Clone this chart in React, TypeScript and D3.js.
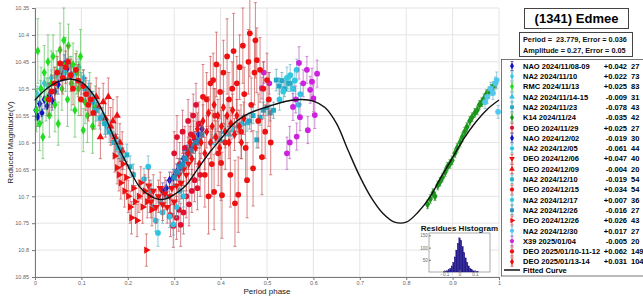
import * as d3 from 'd3';
import { useEffect, useRef } from 'react';

const W = 643;
const H = 299;

// legend rows
const seriesNames = [
  'NAO 2024/11/08-09', 'NA2 2024/11/10', 'RMC 2024/11/13', 'NA2 2024/11/14-15', 'NA2 2024/11/23',
  'K14 2024/11/24', 'DEO 2024/11/29', 'NAO 2024/12/02', 'NA2 2024/12/05', 'DEO 2024/12/06',
  'DEO 2024/12/09', 'NA2 2024/12/10', 'DEO 2024/12/15', 'NA2 2024/12/17', 'NA2 2024/12/26',
  'DEO 2024/12/26', 'NA2 2024/12/30', 'X39 2025/01/04', 'DEO 2025/01/10-11-12', 'DEO 2025/01/13-14',
];
const seriesOffsets = [
  '+0.042', '+0.022', '+0.025', '-0.009', '-0.078', '-0.035', '+0.025', '-0.019', '-0.061', '+0.047',
  '-0.004', '-0.019', '+0.034', '+0.007', '-0.016', '+0.026', '+0.017', '-0.005', '+0.062', '+0.031',
];
const seriesCounts = [27, 73, 83, 31, 43, 42, 27, 30, 44, 40, 20, 54, 54, 36, 27, 43, 27, 20, 149, 104];

// points: [phase, reduced magnitude, error]
const nao1108 = [
  [0.002, 10.54, 0.018], [0.006, 10.552, 0.018], [0.01, 10.528, 0.018], [0.015, 10.545, 0.018],
  [0.02, 10.52, 0.018], [0.026, 10.532, 0.018], [0.031, 10.512, 0.018], [0.037, 10.522, 0.018],
  [0.043, 10.505, 0.018], [0.05, 10.492, 0.018], [0.057, 10.468, 0.018], [0.063, 10.455, 0.018],
  [0.07, 10.462, 0.018], [0.078, 10.475, 0.018],
];
const na21110 = [
  [0.005, 10.51, 0.015], [0.012, 10.5, 0.015], [0.02, 10.49, 0.015], [0.028, 10.495, 0.015],
  [0.035, 10.48, 0.015], [0.045, 10.475, 0.015], [0.055, 10.465, 0.015], [0.065, 10.47, 0.015],
  [0.075, 10.455, 0.015], [0.085, 10.47, 0.015], [0.095, 10.46, 0.015], [0.105, 10.48, 0.015],
  [0.115, 10.5, 0.015], [0.125, 10.52, 0.015], [0.135, 10.53, 0.015], [0.145, 10.55, 0.015],
  [0.155, 10.57, 0.015], [0.165, 10.585, 0.015], [0.175, 10.6, 0.015], [0.185, 10.62, 0.015],
];
const rmc1113 = [
  [0.003, 10.54, 0.04], [0.006, 10.43, 0.06], [0.01, 10.565, 0.05], [0.013, 10.5, 0.04],
  [0.017, 10.59, 0.04], [0.02, 10.47, 0.05], [0.024, 10.52, 0.04], [0.028, 10.45, 0.05],
  [0.031, 10.55, 0.04], [0.035, 10.49, 0.06], [0.039, 10.44, 0.04], [0.043, 10.53, 0.05],
  [0.047, 10.47, 0.04], [0.05, 10.565, 0.04], [0.054, 10.428, 0.05], [0.058, 10.5, 0.04],
  [0.062, 10.41, 0.06], [0.066, 10.455, 0.05], [0.07, 10.52, 0.05], [0.072, 10.42, 0.04],
  [0.078, 10.49, 0.05], [0.082, 10.455, 0.04], [0.086, 10.54, 0.05], [0.09, 10.47, 0.04],
  [0.094, 10.5, 0.05], [0.098, 10.44, 0.05], [0.104, 10.577, 0.04], [0.108, 10.525, 0.04],
  [0.113, 10.55, 0.05], [0.118, 10.51, 0.04], [0.124, 10.57, 0.05], [0.13, 10.535, 0.04],
];
const na21114 = [
  [0.38, 10.6, 0.015], [0.388, 10.59, 0.015], [0.399, 10.595, 0.015], [0.408, 10.58, 0.015],
  [0.418, 10.585, 0.015], [0.427, 10.577, 0.015], [0.436, 10.57, 0.015], [0.446, 10.565, 0.015],
  [0.457, 10.564, 0.015],
];
const na21123 = [
  [0.462, 10.56, 0.015], [0.47, 10.55, 0.015], [0.478, 10.595, 0.015], [0.485, 10.553, 0.015],
  [0.492, 10.54, 0.015], [0.5, 10.535, 0.015], [0.507, 10.545, 0.015], [0.514, 10.54, 0.015],
  [0.52, 10.484, 0.02], [0.526, 10.495, 0.015], [0.532, 10.485, 0.015], [0.538, 10.5, 0.015],
  [0.545, 10.49, 0.015], [0.55, 10.49, 0.015],
];
const k141124 = [
  [0.846, 10.715, 0.008], [0.852, 10.705, 0.008], [0.858, 10.694, 0.008], [0.862, 10.7, 0.008],
  [0.868, 10.68, 0.008], [0.873, 10.673, 0.008], [0.878, 10.665, 0.008], [0.884, 10.655, 0.008],
  [0.889, 10.645, 0.008], [0.894, 10.64, 0.008], [0.899, 10.633, 0.008], [0.905, 10.62, 0.008],
  [0.91, 10.61, 0.008], [0.916, 10.6, 0.008], [0.921, 10.59, 0.008], [0.926, 10.58, 0.008],
  [0.931, 10.571, 0.008], [0.937, 10.56, 0.008], [0.942, 10.553, 0.008], [0.948, 10.545, 0.008],
  [0.953, 10.54, 0.008], [0.958, 10.53, 0.008], [0.963, 10.525, 0.008], [0.968, 10.518, 0.008],
  [0.973, 10.51, 0.008], [0.978, 10.505, 0.008], [0.983, 10.5, 0.008], [0.988, 10.495, 0.008],
  [0.993, 10.49, 0.008],
];
const deo1129 = [
  [0.292, 10.735, 0.04], [0.298, 10.755, 0.04], [0.3, 10.62, 0.04], [0.305, 10.74, 0.04],
  [0.306, 10.59, 0.04], [0.31, 10.725, 0.04], [0.312, 10.64, 0.04], [0.314, 10.753, 0.04],
  [0.318, 10.58, 0.04], [0.32, 10.73, 0.04], [0.323, 10.61, 0.04], [0.326, 10.7, 0.04],
  [0.33, 10.56, 0.04], [0.332, 10.715, 0.04], [0.336, 10.585, 0.04], [0.338, 10.69, 0.04],
  [0.341, 10.55, 0.04], [0.344, 10.67, 0.04], [0.347, 10.53, 0.04], [0.35, 10.685, 0.04],
  [0.353, 10.565, 0.04], [0.356, 10.66, 0.04],
];
const nao1202 = [
  [0.275, 10.69, 0.015], [0.283, 10.685, 0.015], [0.29, 10.67, 0.015], [0.298, 10.665, 0.015],
  [0.305, 10.655, 0.015], [0.313, 10.645, 0.015], [0.32, 10.63, 0.015], [0.328, 10.62, 0.015],
  [0.336, 10.61, 0.015], [0.344, 10.595, 0.015], [0.352, 10.585, 0.015], [0.36, 10.575, 0.015],
];
const na21205 = [
  [0.235, 10.668, 0.02], [0.244, 10.645, 0.02], [0.25, 10.69, 0.02], [0.255, 10.72, 0.02],
  [0.26, 10.745, 0.02], [0.265, 10.768, 0.025], [0.27, 10.71, 0.02], [0.275, 10.73, 0.02],
  [0.282, 10.7, 0.02], [0.29, 10.738, 0.02], [0.298, 10.752, 0.02], [0.305, 10.72, 0.02],
  [0.312, 10.69, 0.02], [0.32, 10.7, 0.02],
];
const deo1206 = [
  [0.245, 10.68, 0.03], [0.25, 10.71, 0.03], [0.255, 10.69, 0.03], [0.261, 10.72, 0.03],
  [0.266, 10.7, 0.03], [0.27, 10.685, 0.03], [0.275, 10.715, 0.03], [0.28, 10.695, 0.03],
  [0.285, 10.72, 0.03], [0.29, 10.7, 0.03], [0.295, 10.685, 0.03], [0.3, 10.71, 0.03],
  [0.305, 10.68, 0.03], [0.31, 10.66, 0.03], [0.315, 10.675, 0.03], [0.32, 10.65, 0.03],
  [0.326, 10.66, 0.03], [0.331, 10.64, 0.03],
];
const deo1209 = [
  [0.132, 10.515, 0.035], [0.138, 10.534, 0.035], [0.141, 10.59, 0.04], [0.147, 10.525, 0.035],
  [0.152, 10.555, 0.035], [0.158, 10.515, 0.035], [0.163, 10.57, 0.035], [0.168, 10.56, 0.04],
  [0.173, 10.59, 0.035], [0.177, 10.55, 0.035], [0.183, 10.6, 0.035], [0.188, 10.615, 0.035],
];
const na21210 = [
  [0.1, 10.49, 0.02], [0.108, 10.5, 0.02], [0.116, 10.51, 0.02], [0.124, 10.525, 0.02],
  [0.132, 10.54, 0.02], [0.14, 10.555, 0.02], [0.15, 10.565, 0.02], [0.16, 10.58, 0.02],
  [0.17, 10.6, 0.02], [0.18, 10.61, 0.02], [0.19, 10.63, 0.02], [0.198, 10.623, 0.02],
  [0.205, 10.645, 0.02], [0.212, 10.66, 0.02],
];
const deo1215 = [
  [0.03, 10.52, 0.03], [0.036, 10.505, 0.03], [0.042, 10.49, 0.03], [0.048, 10.47, 0.03],
  [0.054, 10.453, 0.03], [0.06, 10.48, 0.03], [0.066, 10.46, 0.03], [0.071, 10.45, 0.03],
  [0.077, 10.475, 0.03], [0.082, 10.5, 0.03], [0.088, 10.465, 0.03], [0.093, 10.485, 0.03],
  [0.099, 10.52, 0.03], [0.104, 10.495, 0.03], [0.11, 10.51, 0.03], [0.115, 10.53, 0.03],
  [0.12, 10.52, 0.03], [0.126, 10.545, 0.03],
];
const na21217 = [
  [0.527, 10.52, 0.02], [0.535, 10.505, 0.02], [0.543, 10.48, 0.02], [0.55, 10.475, 0.02],
  [0.556, 10.5, 0.02], [0.56, 10.485, 0.02], [0.564, 10.465, 0.02], [0.568, 10.53, 0.02],
  [0.572, 10.51, 0.02],
];
const na21226 = [
  [0.3, 10.665, 0.015], [0.306, 10.655, 0.015], [0.312, 10.645, 0.015], [0.318, 10.64, 0.015],
  [0.324, 10.63, 0.015], [0.33, 10.62, 0.015], [0.336, 10.615, 0.015], [0.342, 10.605, 0.015],
  [0.348, 10.6, 0.015], [0.354, 10.595, 0.015], [0.36, 10.585, 0.015],
];
const deo1226 = [
  [0.172, 10.625, 0.03], [0.177, 10.647, 0.03], [0.181, 10.66, 0.03], [0.185, 10.675, 0.03],
  [0.189, 10.64, 0.03], [0.193, 10.69, 0.03], [0.197, 10.665, 0.03], [0.201, 10.7, 0.03],
  [0.205, 10.72, 0.03], [0.208, 10.74, 0.03], [0.212, 10.685, 0.03], [0.216, 10.71, 0.03],
  [0.22, 10.745, 0.03], [0.224, 10.7, 0.03], [0.228, 10.675, 0.03], [0.232, 10.72, 0.03],
  [0.237, 10.69, 0.03], [0.24, 10.8, 0.03], [0.242, 10.71, 0.03], [0.247, 10.7, 0.03],
  [0.252, 10.725, 0.03],
];
const na21230 = [
  [0.97, 10.525, 0.012], [0.975, 10.515, 0.012], [0.982, 10.5, 0.012], [0.987, 10.508, 0.012],
  [0.992, 10.49, 0.012], [0.995, 10.484, 0.015], [0.998, 10.543, 0.012],
];
const x390104 = [
  [0.489, 10.499, 0.02], [0.493, 10.47, 0.02], [0.505, 10.49, 0.02], [0.543, 10.62, 0.03],
  [0.549, 10.6, 0.03], [0.556, 10.534, 0.025], [0.562, 10.52, 0.025], [0.564, 10.589, 0.025],
  [0.569, 10.452, 0.03], [0.571, 10.553, 0.025], [0.578, 10.49, 0.025], [0.586, 10.465, 0.025],
  [0.588, 10.577, 0.025], [0.593, 10.502, 0.025], [0.597, 10.487, 0.025], [0.6, 10.518, 0.025],
  [0.603, 10.549, 0.025], [0.608, 10.472, 0.025],
];
const deo0110 = [
  [0.362, 10.515, 0.06], [0.366, 10.66, 0.06], [0.37, 10.52, 0.05], [0.374, 10.7, 0.07],
  [0.378, 10.49, 0.05], [0.381, 10.64, 0.06], [0.384, 10.484, 0.05], [0.386, 10.692, 0.07],
  [0.388, 10.55, 0.05], [0.391, 10.455, 0.06], [0.395, 10.62, 0.06], [0.399, 10.506, 0.05],
  [0.401, 10.638, 0.07], [0.403, 10.698, 0.08], [0.406, 10.47, 0.06], [0.41, 10.6, 0.05],
  [0.414, 10.44, 0.07], [0.418, 10.52, 0.05], [0.421, 10.66, 0.06], [0.425, 10.5, 0.05],
  [0.428, 10.43, 0.07], [0.431, 10.713, 0.08], [0.435, 10.49, 0.05], [0.438, 10.697, 0.07],
  [0.441, 10.46, 0.06], [0.444, 10.58, 0.05], [0.448, 10.42, 0.07], [0.451, 10.51, 0.05],
  [0.454, 10.61, 0.06], [0.457, 10.67, 0.07], [0.46, 10.45, 0.06], [0.463, 10.397, 0.08],
  [0.466, 10.53, 0.05], [0.47, 10.648, 0.07], [0.473, 10.47, 0.06], [0.475, 10.41, 0.07],
  [0.478, 10.447, 0.06], [0.481, 10.56, 0.05], [0.485, 10.465, 0.06], [0.489, 10.627, 0.07],
  [0.492, 10.5, 0.05], [0.496, 10.58, 0.05], [0.5, 10.484, 0.05], [0.504, 10.52, 0.05],
  [0.508, 10.6, 0.06],
];
const deo0113 = [
  [0.33, 10.62, 0.03], [0.334, 10.6, 0.03], [0.338, 10.63, 0.03], [0.342, 10.59, 0.03],
  [0.346, 10.61, 0.03], [0.35, 10.575, 0.03], [0.354, 10.64, 0.03], [0.358, 10.6, 0.03],
  [0.362, 10.56, 0.03], [0.366, 10.62, 0.03], [0.37, 10.58, 0.03], [0.374, 10.545, 0.03],
  [0.378, 10.6, 0.03], [0.382, 10.57, 0.03], [0.386, 10.53, 0.03], [0.39, 10.59, 0.03],
  [0.394, 10.55, 0.03], [0.398, 10.61, 0.03], [0.402, 10.57, 0.03], [0.406, 10.535, 0.03],
  [0.41, 10.58, 0.03], [0.414, 10.55, 0.03], [0.418, 10.6, 0.03], [0.422, 10.565, 0.03],
  [0.426, 10.54, 0.03], [0.43, 10.585, 0.03], [0.435, 10.55, 0.03], [0.44, 10.57, 0.03],
  [0.445, 10.6, 0.03], [0.45, 10.555, 0.03],
];

const seriesData = [
  nao1108, na21110, rmc1113, na21114, na21123, k141124, deo1129, nao1202, na21205, deo1206,
  deo1209, na21210, deo1215, na21217, na21226, deo1226, na21230, x390104, deo0110, deo0113,
];

const seriesColors = [
  '#1010c8', '#3cc8f0', '#22dd22', '#30c0e0', '#20a8c8', '#1c961c', '#e01030', '#1010c8', '#30c4e4', '#ee1010',
  '#ee1010', '#20b0c8', '#ee1010', '#30c8e0', '#2090c0', '#ee1010', '#50c8f0', '#cc22dd', '#ee1010', '#ee1010',
];
const seriesShapes = [
  'diamond', 'diamond', 'diamond', 'triUp', 'square', 'diamond', 'circle', 'diamond', 'circle', 'triDown',
  'triUp', 'square', 'circle', 'circle', 'square', 'triRight', 'circle', 'circle', 'circle', 'diamond',
];

// fitted curve
const curvePhase = [
  0, 0.025, 0.05, 0.075, 0.1, 0.125, 0.15, 0.175, 0.2, 0.225, 0.25, 0.275, 0.3, 0.325, 0.35, 0.375, 0.4,
  0.425, 0.45, 0.475, 0.5, 0.525, 0.55, 0.575, 0.6, 0.625, 0.65, 0.675, 0.7, 0.725, 0.75, 0.775, 0.8,
  0.825, 0.85, 0.875, 0.9, 0.925, 0.95, 0.975, 1,
];
const curveMag = [
  10.521, 10.5, 10.487, 10.482, 10.488, 10.51, 10.55, 10.6, 10.643, 10.682, 10.7, 10.706, 10.697, 10.68,
  10.65, 10.62, 10.594, 10.568, 10.551, 10.541, 10.534, 10.527, 10.522, 10.52, 10.523, 10.535, 10.565,
  10.615, 10.663, 10.703, 10.732, 10.748, 10.748, 10.73, 10.703, 10.665, 10.628, 10.592, 10.562, 10.538,
  10.521,
];

// residues histogram
const histCenters = [
  -0.1, -0.09, -0.08, -0.07, -0.06, -0.05, -0.04, -0.03, -0.02, -0.01, 0, 0.01, 0.02, 0.03, 0.04, 0.05,
  0.06, 0.07, 0.08, 0.09, 0.1, 0.11, 0.12,
];
const histCounts = [2, 3, 5, 9, 15, 25, 40, 62, 90, 118, 140, 130, 105, 80, 58, 40, 25, 15, 9, 5, 3, 2, 1];

const xTicks = [0, 0.1, 0.2, 0.3, 0.4, 0.5, 0.6, 0.7, 0.8, 0.9, 1];
const yTicks = [10.35, 10.4, 10.45, 10.5, 10.55, 10.6, 10.65, 10.7, 10.75, 10.8, 10.85];
const histXTicks = [-0.1, 0, 0.1];
const histYTicks = [50, 100, 150];

const FONT = '"Liberation Sans", Arial, sans-serif';

const symbolTypes = {
  circle: d3.symbolCircle,
  diamond: d3.symbolDiamond,
  square: d3.symbolSquare,
  triUp: d3.symbolTriangle,
  triDown: d3.symbolTriangle,
  triRight: d3.symbolTriangle,
};
const symbolRotate = { triDown: 180, triRight: 90 };

const App = () => {
  const ref = useRef(null);

  useEffect(() => {
    const svg = d3.select(ref.current);
    svg.selectAll('*').remove();

    const margin = { top: 8, left: 35, right: 144, bottom: 22 };
    const x = d3.scaleLinear().domain([0, 1]).range([margin.left, W - margin.right]);
    const y = d3.scaleLinear().domain([10.35, 10.85]).range([margin.top, H - margin.bottom]);

    svg.append('rect').attr('width', W).attr('height', H).attr('fill', '#fff');

    // grid
    const grid = svg.append('g').attr('stroke', '#e4e4e4').attr('stroke-width', 1);
    xTicks.forEach((t) => {
      grid.append('line').attr('x1', x(t)).attr('x2', x(t)).attr('y1', y(10.35)).attr('y2', y(10.85));
    });
    yTicks.forEach((t) => {
      grid.append('line').attr('x1', x(0)).attr('x2', x(1)).attr('y1', y(t)).attr('y2', y(t));
    });

    // axes
    const xAxis = svg
      .append('g')
      .attr('transform', `translate(0, ${y(10.85)})`)
      .call(d3.axisBottom(x).tickValues(xTicks).tickSize(3).tickPadding(1).tickFormat(d3.format('')));
    const yAxis = svg
      .append('g')
      .attr('transform', `translate(${x(0)}, 0)`)
      .call(
        d3.axisLeft(y).tickValues(yTicks).tickSize(3).tickFormat((d) => String(+d.toFixed(2)))
      );
    [xAxis, yAxis].forEach((g) => {
      g.select('.domain').attr('stroke', '#777');
      g.selectAll('.tick line').attr('stroke', '#777');
      g.selectAll('text').attr('fill', '#666').style('font', `5.5px ${FONT}`);
    });

    svg
      .append('text')
      .attr('x', x(0.5))
      .attr('y', 294)
      .attr('text-anchor', 'middle')
      .attr('fill', '#222')
      .style('font', `8px ${FONT}`)
      .text('Period phase');
    svg
      .append('text')
      .attr('transform', `translate(13, ${y(10.6)}) rotate(-90)`)
      .attr('text-anchor', 'middle')
      .attr('fill', '#222')
      .style('font', `8px ${FONT}`)
      .text('Reduced Magnitude(V)');

    const symbolPath = (shape, size) => d3.symbol().type(symbolTypes[shape]).size(size)();
    const barColor = (c) => d3.interpolateRgb(c, '#8a8a8a')(0.4);

    // points with error bars
    const plot = svg.append('g');
    seriesData.forEach((pts, i) => {
      const c = seriesColors[i];
      const shape = seriesShapes[i];
      const g = plot.append('g');
      const bars = g
        .append('g')
        .attr('stroke', barColor(c))
        .attr('stroke-width', 0.8)
        .attr('opacity', 0.8);
      pts.forEach(([p, m, e]) => {
        const cx = x(p);
        bars.append('line').attr('x1', cx).attr('x2', cx).attr('y1', y(m - e)).attr('y2', y(m + e));
        bars.append('line').attr('x1', cx - 1.5).attr('x2', cx + 1.5).attr('y1', y(m - e)).attr('y2', y(m - e));
        bars.append('line').attr('x1', cx - 1.5).attr('x2', cx + 1.5).attr('y1', y(m + e)).attr('y2', y(m + e));
      });
      g.selectAll('path')
        .data(pts)
        .enter()
        .append('path')
        .attr('d', symbolPath(shape, shape === 'circle' ? 26 : 24))
        .attr(
          'transform',
          (d) => `translate(${x(d[0])}, ${y(d[1])}) rotate(${symbolRotate[shape] || 0})`
        )
        .attr('fill', c);
    });

    // fitted curve
    const line = d3
      .line()
      .x((d) => x(d[0]))
      .y((d) => y(d[1]))
      .curve(d3.curveCatmullRom);
    svg
      .append('path')
      .datum(curvePhase.map((p, i) => [p, curveMag[i]]))
      .attr('d', line)
      .attr('fill', 'none')
      .attr('stroke', '#111')
      .attr('stroke-width', 1.4);

    // residues histogram inset
    const hx = d3.scaleLinear().domain([-0.2, 0.2]).range([429, 490]);
    const hy = d3.scaleLinear().domain([0, 160]).range([272, 233]);
    svg
      .append('rect')
      .attr('x', hx(-0.2))
      .attr('y', hy(160))
      .attr('width', hx(0.2) - hx(-0.2))
      .attr('height', hy(0) - hy(160))
      .attr('fill', '#fff')
      .attr('stroke', '#888')
      .attr('stroke-width', 0.7);
    svg
      .append('g')
      .selectAll('rect')
      .data(histCenters)
      .enter()
      .append('rect')
      .attr('x', (d) => hx(d - 0.005))
      .attr('width', hx(0.01) - hx(0))
      .attr('y', (d, i) => hy(histCounts[i]))
      .attr('height', (d, i) => hy(0) - hy(histCounts[i]))
      .attr('fill', '#231a8c')
      .attr('stroke', '#231a8c')
      .attr('stroke-width', 0.3);
    const hxa = svg
      .append('g')
      .attr('transform', `translate(0, ${hy(0)})`)
      .call(d3.axisBottom(hx).tickValues(histXTicks).tickSize(-2).tickFormat(d3.format('')));
    const hya = svg
      .append('g')
      .attr('transform', `translate(${hx(-0.2)}, 0)`)
      .call(d3.axisLeft(hy).tickValues(histYTicks).tickSize(-2));
    [hxa, hya].forEach((g) => {
      g.select('.domain').remove();
      g.selectAll('.tick line').attr('stroke', '#777');
      g.selectAll('text').attr('fill', '#666').style('font', `4.5px ${FONT}`);
    });
    hxa.selectAll('text').attr('dy', '0.3em');
    hya.selectAll('text').attr('dx', '0.4em');
    svg
      .append('text')
      .attr('x', (hx(-0.2) + hx(0.2)) / 2)
      .attr('y', 231)
      .attr('text-anchor', 'middle')
      .attr('fill', '#111')
      .style('font', `bold 8px ${FONT}`)
      .text('Residues Histogram');

    // title and parameter boxes
    svg
      .append('rect')
      .attr('x', 524.5)
      .attr('y', 8.5)
      .attr('width', 104)
      .attr('height', 20)
      .attr('fill', '#fff')
      .attr('stroke', '#444');
    svg
      .append('text')
      .attr('x', 576.5)
      .attr('y', 23.3)
      .attr('text-anchor', 'middle')
      .attr('fill', '#000')
      .style('font', `bold 13px ${FONT}`)
      .text('(1341) Edmee');
    svg
      .append('rect')
      .attr('x', 519.5)
      .attr('y', 32.5)
      .attr('width', 113)
      .attr('height', 24)
      .attr('fill', '#fff')
      .attr('stroke', '#444');
    svg
      .append('text')
      .attr('x', 523)
      .attr('y', 42)
      .attr('fill', '#111')
      .attr('xml:space', 'preserve')
      .style('font', `bold 7.3px ${FONT}`)
      .style('white-space', 'pre')
      .text('Period =  23.779, Error = 0.036');
    svg
      .append('text')
      .attr('x', 523)
      .attr('y', 53)
      .attr('fill', '#111')
      .style('font', `bold 7.3px ${FONT}`)
      .text('Amplitude = 0.27, Error = 0.05');

    // legend
    const legend = svg.append('g');
    legend
      .append('rect')
      .attr('x', 501.5)
      .attr('y', 59.5)
      .attr('width', 150)
      .attr('height', 216.5)
      .attr('fill', '#fff')
      .attr('stroke', '#555')
      .attr('stroke-width', 0.8);
    const rowY = (i) => 66 + i * 10.3;
    seriesNames.forEach((name, i) => {
      const cy = rowY(i);
      const c = seriesColors[i];
      const shape = seriesShapes[i];
      legend
        .append('line')
        .attr('x1', 512)
        .attr('x2', 512)
        .attr('y1', cy - 4.5)
        .attr('y2', cy + 4.5)
        .attr('stroke', barColor(c))
        .attr('stroke-width', 0.8);
      [cy - 4.5, cy + 4.5].forEach((yy) => {
        legend
          .append('line')
          .attr('x1', 510.5)
          .attr('x2', 513.5)
          .attr('y1', yy)
          .attr('y2', yy)
          .attr('stroke', barColor(c))
          .attr('stroke-width', 0.8);
      });
      legend
        .append('path')
        .attr('d', symbolPath(shape, 14))
        .attr('transform', `translate(512, ${cy}) rotate(${symbolRotate[shape] || 0})`)
        .attr('fill', c);
      const t = legend.append('g').style('font', `bold 7.5px ${FONT}`).attr('fill', '#000');
      t.append('text').attr('x', 523).attr('y', cy + 2.7).text(name);
      t.append('text')
        .attr('x', 627)
        .attr('y', cy + 2.7)
        .attr('text-anchor', 'end')
        .text(seriesOffsets[i]);
      t.append('text').attr('x', 631).attr('y', cy + 2.7).text(String(seriesCounts[i]));
    });
    const fy = 270;
    legend
      .append('line')
      .attr('x1', 504)
      .attr('x2', 520)
      .attr('y1', fy)
      .attr('y2', fy)
      .attr('stroke', '#111')
      .attr('stroke-width', 1.5);
    legend
      .append('text')
      .attr('x', 523)
      .attr('y', fy + 2.7)
      .attr('fill', '#000')
      .style('font', `bold 7.5px ${FONT}`)
      .text('Fitted Curve');
  }, []);

  return (
    <svg
      ref={ref}
      width={W}
      height={H}
      style={{ position: 'absolute', left: 0, top: 0, display: 'block' }}
    />
  );
};

export default App;
